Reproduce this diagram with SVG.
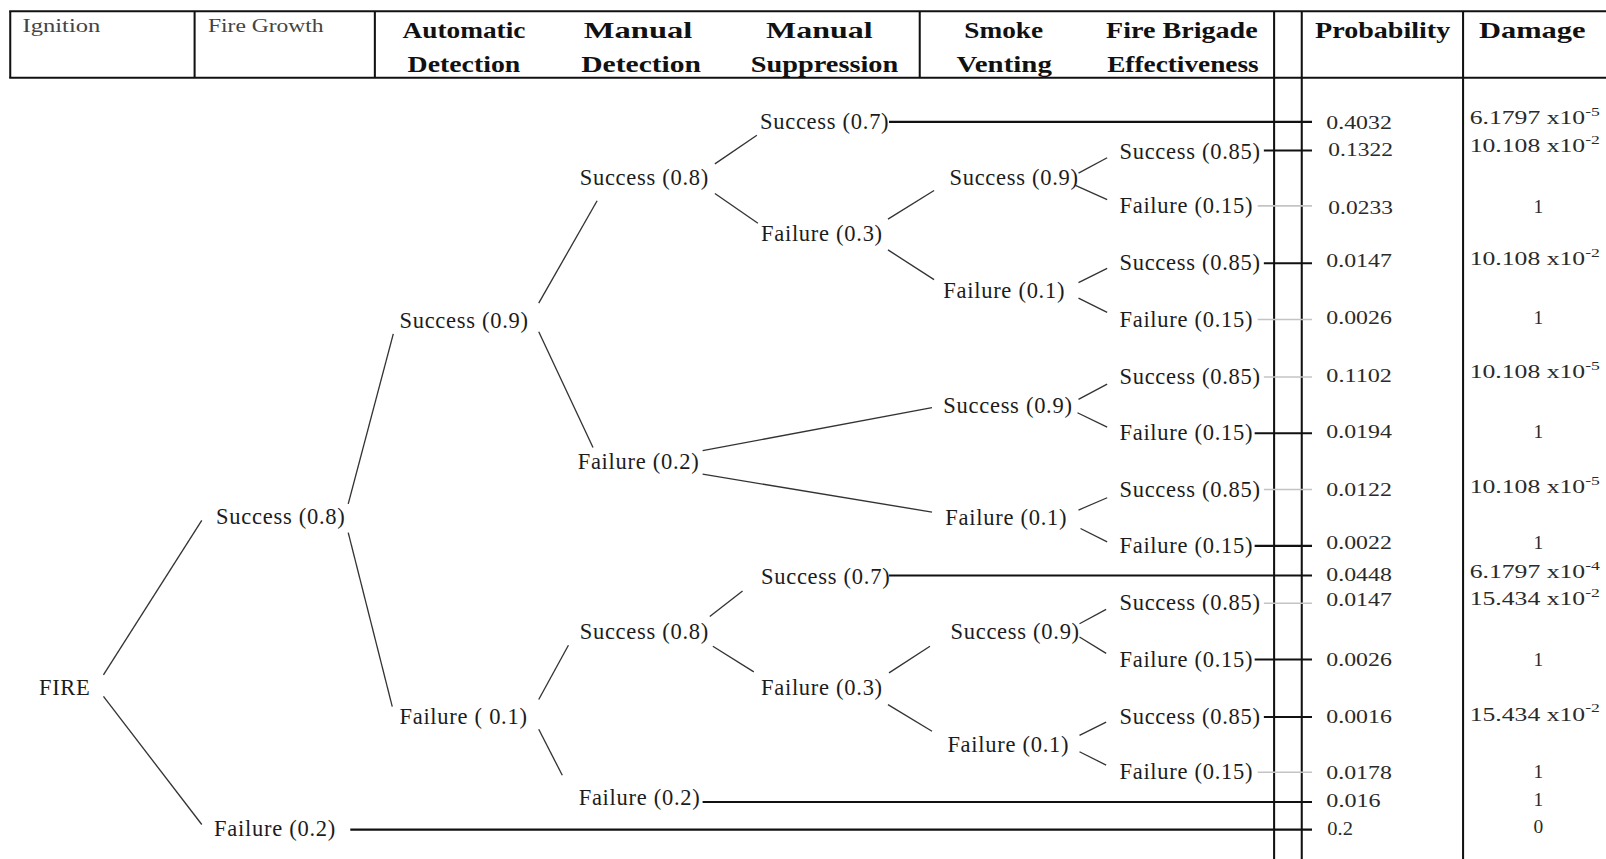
<svg xmlns="http://www.w3.org/2000/svg" width="1606" height="859" viewBox="0 0 1606 859">
  <style>
    text { font-family: "Liberation Serif", "Times New Roman", serif; }
    .hd { font-size: 23px; font-weight: bold; fill: #111; text-anchor: middle; }
    .hs { font-size: 19px; fill: #444; }
    .lbl { font-size: 22px; letter-spacing: 0.7px; fill: #1c1c1c; }
    .pr { font-size: 19px; fill: #2a2a2a; }
    .dm { font-size: 19px; fill: #2a2a2a; text-anchor: middle; }
    .rule { stroke: #111; stroke-width: 2; fill: none; }
    .branch { stroke: #333; stroke-width: 1.3; }
    .term { stroke: #111; stroke-width: 2; }
    .faint { stroke: #c4c4c4; stroke-width: 1.5; }
  </style>
  <rect width="1606" height="859" fill="#fff"/>
  <g transform="scale(1.0242)">
    <!-- table frame and column rules -->
    <g id="table">
      <line class="rule" x1="9" y1="11" x2="1570" y2="11"/>
      <line class="rule" x1="9" y1="76" x2="1570" y2="76"/>
      <line class="rule" x1="10" y1="11" x2="10" y2="76"/>
      <line class="rule" x1="190" y1="11" x2="190" y2="76"/>
      <line class="rule" x1="366" y1="11" x2="366" y2="76"/>
      <line class="rule" x1="898" y1="11" x2="898" y2="76"/>
      <line class="rule" x1="1244" y1="11" x2="1244" y2="840"/>
      <line class="rule" x1="1271" y1="11" x2="1271" y2="840"/>
      <line class="rule" x1="1428.5" y1="11" x2="1428.5" y2="840"/>

      <text class="hs" x="22" y="31" textLength="76" lengthAdjust="spacingAndGlyphs">Ignition</text>
      <text class="hs" x="203" y="31" textLength="113" lengthAdjust="spacingAndGlyphs">Fire Growth</text>
      <text class="hd" x="453" y="37" textLength="120" lengthAdjust="spacingAndGlyphs">Automatic</text>
      <text class="hd" x="453" y="70" textLength="110" lengthAdjust="spacingAndGlyphs">Detection</text>
      <text class="hd" x="623" y="37" textLength="106" lengthAdjust="spacingAndGlyphs">Manual</text>
      <text class="hd" x="626" y="70" textLength="117" lengthAdjust="spacingAndGlyphs">Detection</text>
      <text class="hd" x="800" y="37" textLength="104" lengthAdjust="spacingAndGlyphs">Manual</text>
      <text class="hd" x="805" y="70" textLength="144" lengthAdjust="spacingAndGlyphs">Suppression</text>
      <text class="hd" x="980" y="37" textLength="77" lengthAdjust="spacingAndGlyphs">Smoke</text>
      <text class="hd" x="980.5" y="70" textLength="93" lengthAdjust="spacingAndGlyphs">Venting</text>
      <text class="hd" x="1154" y="37" textLength="148" lengthAdjust="spacingAndGlyphs">Fire Brigade</text>
      <text class="hd" x="1155" y="70" textLength="148" lengthAdjust="spacingAndGlyphs">Effectiveness</text>
      <text class="hd" x="1350" y="37" textLength="132" lengthAdjust="spacingAndGlyphs">Probability</text>
      <text class="hd" x="1496" y="37" textLength="104" lengthAdjust="spacingAndGlyphs">Damage</text>
    </g>

    <!-- branches of the event tree and the leads into the outcome columns -->
    <g id="connectors">
      <line class="branch" x1="101" y1="659" x2="197" y2="508"/>
      <line class="branch" x1="101" y1="680" x2="197" y2="805"/>
      <line class="branch" x1="340" y1="492" x2="384" y2="326"/>
      <line class="branch" x1="340" y1="520" x2="383" y2="690"/>
      <line class="branch" x1="526" y1="296" x2="583" y2="196"/>
      <line class="branch" x1="526" y1="324" x2="579" y2="437"/>
      <line class="branch" x1="526" y1="683" x2="555" y2="630"/>
      <line class="branch" x1="526" y1="712" x2="549" y2="757"/>
      <line class="branch" x1="698" y1="160" x2="739" y2="132"/>
      <line class="branch" x1="698" y1="189" x2="740" y2="218"/>
      <line class="branch" x1="686" y1="440" x2="910" y2="398"/>
      <line class="branch" x1="686" y1="463" x2="910" y2="500"/>
      <line class="branch" x1="693" y1="602" x2="725" y2="577"/>
      <line class="branch" x1="696" y1="631" x2="736" y2="656"/>
      <line class="branch" x1="867" y1="214" x2="912" y2="186"/>
      <line class="branch" x1="867" y1="244" x2="912" y2="273"/>
      <line class="branch" x1="868" y1="657" x2="908" y2="631"/>
      <line class="branch" x1="867" y1="688" x2="910" y2="714"/>
      <line class="branch" x1="1053" y1="169" x2="1081" y2="154"/>
      <line class="branch" x1="1050" y1="181" x2="1081" y2="195"/>
      <line class="branch" x1="1053" y1="276" x2="1081" y2="262"/>
      <line class="branch" x1="1053" y1="291" x2="1081" y2="305"/>
      <line class="branch" x1="1053" y1="390" x2="1081" y2="375"/>
      <line class="branch" x1="1052" y1="403" x2="1081" y2="417"/>
      <line class="branch" x1="1053" y1="498" x2="1081" y2="486"/>
      <line class="branch" x1="1055" y1="516" x2="1081" y2="529"/>
      <line class="branch" x1="1054" y1="609" x2="1080" y2="595"/>
      <line class="branch" x1="1054" y1="622" x2="1080" y2="638"/>
      <line class="branch" x1="1054" y1="718" x2="1080" y2="705"/>
      <line class="branch" x1="1054" y1="734" x2="1080" y2="747"/>

      <line class="term" x1="868" y1="119" x2="1281" y2="119"/>
      <line class="term" x1="1234" y1="147" x2="1281" y2="147"/>
      <line class="faint" x1="1228" y1="201" x2="1281" y2="201"/>
      <line class="term" x1="1234" y1="257" x2="1281" y2="257"/>
      <line class="faint" x1="1228" y1="312" x2="1281" y2="312"/>
      <line class="faint" x1="1234" y1="368" x2="1281" y2="368"/>
      <line class="term" x1="1225" y1="423" x2="1281" y2="423"/>
      <line class="faint" x1="1234" y1="478" x2="1281" y2="478"/>
      <line class="term" x1="1225" y1="533" x2="1281" y2="533"/>
      <line class="term" x1="868" y1="562" x2="1281" y2="562"/>
      <line class="faint" x1="1234" y1="589" x2="1281" y2="589"/>
      <line class="term" x1="1225" y1="644" x2="1281" y2="644"/>
      <line class="term" x1="1234" y1="700" x2="1281" y2="700"/>
      <line class="faint" x1="1228" y1="754" x2="1281" y2="754"/>
      <line class="term" x1="686" y1="783" x2="1281" y2="783"/>
      <line class="term" x1="342" y1="810" x2="1281" y2="810"/>
    </g>

    <!-- event nodes -->
    <g id="n-fire"><text class="lbl" x="38" y="679" letter-spacing="2">FIRE</text></g>

    <g id="n-fg-s"><text class="lbl" x="211" y="512">Success (0.8)</text></g>
    <g id="n-fg-f"><text class="lbl" x="209" y="816">Failure (0.2)</text></g>

    <g id="n-ad-s"><text class="lbl" x="390" y="320">Success (0.9)</text></g>
    <g id="n-ad-f"><text class="lbl" x="390" y="707">Failure ( 0.1)</text></g>

    <g id="n-md-s1"><text class="lbl" x="566" y="181">Success (0.8)</text></g>
    <g id="n-md-f1"><text class="lbl" x="564" y="458">Failure (0.2)</text></g>
    <g id="n-md-s2"><text class="lbl" x="566" y="624">Success (0.8)</text></g>
    <g id="n-md-f2"><text class="lbl" x="565" y="786">Failure (0.2)</text></g>

    <g id="n-ms-s1"><text class="lbl" x="742" y="126">Success (0.7)</text></g>
    <g id="n-ms-f1"><text class="lbl" x="743" y="235">Failure (0.3)</text></g>
    <g id="n-ms-s2"><text class="lbl" x="743" y="570">Success (0.7)</text></g>
    <g id="n-ms-f2"><text class="lbl" x="743" y="679">Failure (0.3)</text></g>

    <g id="n-sv-s1"><text class="lbl" x="927" y="181">Success (0.9)</text></g>
    <g id="n-sv-f1"><text class="lbl" x="921" y="291">Failure (0.1)</text></g>
    <g id="n-sv-s2"><text class="lbl" x="921" y="403">Success (0.9)</text></g>
    <g id="n-sv-f2"><text class="lbl" x="923" y="513">Failure (0.1)</text></g>
    <g id="n-sv-s3"><text class="lbl" x="928" y="624">Success (0.9)</text></g>
    <g id="n-sv-f3"><text class="lbl" x="925" y="734">Failure (0.1)</text></g>

    <g id="n-fb-s1"><text class="lbl" x="1093" y="155">Success (0.85)</text></g>
    <g id="n-fb-f1"><text class="lbl" x="1093" y="208">Failure (0.15)</text></g>
    <g id="n-fb-s2"><text class="lbl" x="1093" y="264">Success (0.85)</text></g>
    <g id="n-fb-f2"><text class="lbl" x="1093" y="319">Failure (0.15)</text></g>
    <g id="n-fb-s3"><text class="lbl" x="1093" y="375">Success (0.85)</text></g>
    <g id="n-fb-f3"><text class="lbl" x="1093" y="430">Failure (0.15)</text></g>
    <g id="n-fb-s4"><text class="lbl" x="1093" y="485">Success (0.85)</text></g>
    <g id="n-fb-f4"><text class="lbl" x="1093" y="540">Failure (0.15)</text></g>
    <g id="n-fb-s5"><text class="lbl" x="1093" y="596">Success (0.85)</text></g>
    <g id="n-fb-f5"><text class="lbl" x="1093" y="651">Failure (0.15)</text></g>
    <g id="n-fb-s6"><text class="lbl" x="1093" y="707">Success (0.85)</text></g>
    <g id="n-fb-f6"><text class="lbl" x="1093" y="761">Failure (0.15)</text></g>

    <!-- outcome rows: probability and damage -->
    <g id="row-1"><text class="pr" x="1295" y="125.5" textLength="64" lengthAdjust="spacingAndGlyphs">0.4032</text><text class="dm" x="1498.5" y="121" textLength="127" lengthAdjust="spacingAndGlyphs">6.1797 x10<tspan dy="-8" font-size="13">-5</tspan></text></g>
    <g id="row-2"><text class="pr" x="1297" y="152.5" textLength="63" lengthAdjust="spacingAndGlyphs">0.1322</text><text class="dm" x="1498.5" y="148.5" textLength="127" lengthAdjust="spacingAndGlyphs">10.108 x10<tspan dy="-8" font-size="13">-2</tspan></text></g>
    <g id="row-3"><text class="pr" x="1297" y="208.5" textLength="63" lengthAdjust="spacingAndGlyphs">0.0233</text><text class="dm" x="1502" y="207.5">1</text></g>
    <g id="row-4"><text class="pr" x="1295" y="260.5" textLength="64" lengthAdjust="spacingAndGlyphs">0.0147</text><text class="dm" x="1498.5" y="258.5" textLength="127" lengthAdjust="spacingAndGlyphs">10.108 x10<tspan dy="-8" font-size="13">-2</tspan></text></g>
    <g id="row-5"><text class="pr" x="1295" y="316.5" textLength="64" lengthAdjust="spacingAndGlyphs">0.0026</text><text class="dm" x="1502" y="316.5">1</text></g>
    <g id="row-6"><text class="pr" x="1295" y="372.5" textLength="64" lengthAdjust="spacingAndGlyphs">0.1102</text><text class="dm" x="1498.5" y="369.5" textLength="127" lengthAdjust="spacingAndGlyphs">10.108 x10<tspan dy="-8" font-size="13">-5</tspan></text></g>
    <g id="row-7"><text class="pr" x="1295" y="427.5" textLength="64" lengthAdjust="spacingAndGlyphs">0.0194</text><text class="dm" x="1502" y="427.5">1</text></g>
    <g id="row-8"><text class="pr" x="1295" y="484.5" textLength="64" lengthAdjust="spacingAndGlyphs">0.0122</text><text class="dm" x="1498.5" y="481.5" textLength="127" lengthAdjust="spacingAndGlyphs">10.108 x10<tspan dy="-8" font-size="13">-5</tspan></text></g>
    <g id="row-9"><text class="pr" x="1295" y="536.5" textLength="64" lengthAdjust="spacingAndGlyphs">0.0022</text><text class="dm" x="1502" y="536.5">1</text></g>
    <g id="row-10"><text class="pr" x="1295" y="567.5" textLength="64" lengthAdjust="spacingAndGlyphs">0.0448</text><text class="dm" x="1498.5" y="564.5" textLength="127" lengthAdjust="spacingAndGlyphs">6.1797 x10<tspan dy="-8" font-size="13">-4</tspan></text></g>
    <g id="row-11"><text class="pr" x="1295" y="591.5" textLength="64" lengthAdjust="spacingAndGlyphs">0.0147</text><text class="dm" x="1498.5" y="590.5" textLength="127" lengthAdjust="spacingAndGlyphs">15.434 x10<tspan dy="-8" font-size="13">-2</tspan></text></g>
    <g id="row-12"><text class="pr" x="1295" y="650.5" textLength="64" lengthAdjust="spacingAndGlyphs">0.0026</text><text class="dm" x="1502" y="650.5">1</text></g>
    <g id="row-13"><text class="pr" x="1295" y="705.5" textLength="64" lengthAdjust="spacingAndGlyphs">0.0016</text><text class="dm" x="1498.5" y="703.5" textLength="127" lengthAdjust="spacingAndGlyphs">15.434 x10<tspan dy="-8" font-size="13">-2</tspan></text></g>
    <g id="row-14"><text class="pr" x="1295" y="760.5" textLength="64" lengthAdjust="spacingAndGlyphs">0.0178</text><text class="dm" x="1502" y="759.5">1</text></g>
    <g id="row-15"><text class="pr" x="1295" y="787.5" textLength="53" lengthAdjust="spacingAndGlyphs">0.016</text><text class="dm" x="1502" y="786.5">1</text></g>
    <g id="row-16"><text class="pr" x="1296" y="815.5" textLength="25" lengthAdjust="spacingAndGlyphs">0.2</text><text class="dm" x="1502" y="813.5">0</text></g>
  </g>
</svg>
